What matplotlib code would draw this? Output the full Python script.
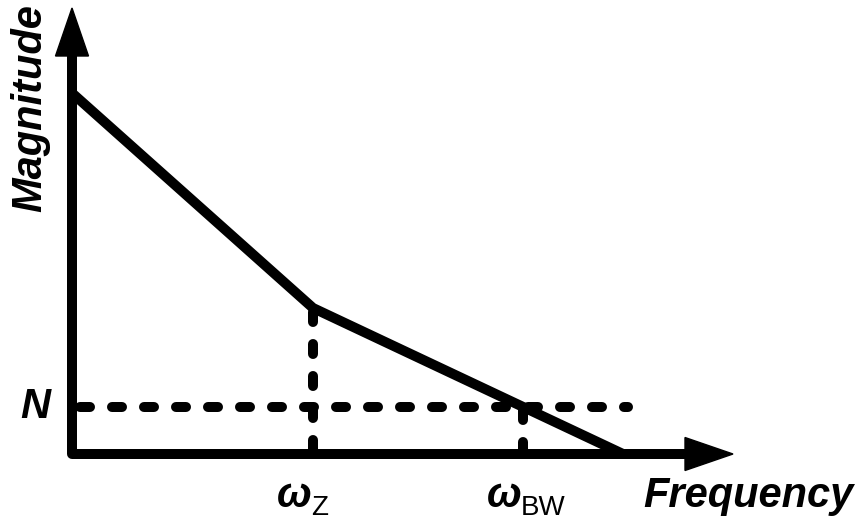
import numpy as np
import matplotlib.pyplot as plt
from matplotlib.patches import Polygon

# Bode magnitude asymptotes (arbitrary linear units, origin at axis corner)
freq_pts = [0, 241, 551]
mag_pts = [361, 146, 0]
w_z = 241
w_bw = 451
noise_level = 47
noise_end = 556

# axis extents
x_axis_tip = 661
y_axis_tip = 446

lw = 7.2
head_len = 48
head_half = 16.5

fig = plt.figure(figsize=(8.62, 5.23), dpi=100, facecolor='w')
ax = fig.add_axes([0, 0, 1, 1])
ax.set_xlim(-72, 790)
ax.set_ylim(-69, 454)
ax.axis('off')

#Axes with arrow heads
ax.plot([0, 0, x_axis_tip - head_len + 2], [y_axis_tip - head_len + 2, 0, 0],
        color='black', lw=lw, solid_joinstyle='round', solid_capstyle='butt', zorder=3)
ax.add_patch(Polygon([[0, y_axis_tip], [-head_half, y_axis_tip - head_len], [head_half, y_axis_tip - head_len]],
                     closed=True, color='black', zorder=3))
ax.add_patch(Polygon([[x_axis_tip, 0], [x_axis_tip - head_len, head_half], [x_axis_tip - head_len, -head_half]],
                     closed=True, color='black', zorder=3))

#Magnitude curve
ax.plot(freq_pts, mag_pts, color='black', lw=lw, solid_joinstyle='round', solid_capstyle='butt', zorder=4)

#Dashed guides
dash_kw = dict(color='black', lw=lw, linestyle=(0, (1.0, 2.2)), dash_capstyle='round', zorder=2)
ax.plot([8, noise_end], [noise_level, noise_level], **dash_kw)
ax.plot([w_z, w_z], [mag_pts[1] - 4, 0], **dash_kw)
i_bw = noise_level
ax.plot([w_bw, w_bw], [i_bw - 3, 0], **dash_kw)

#Labels
bi = dict(family='Liberation Sans', weight='bold', style='italic', color='black')
rg = dict(family='Liberation Sans', color='black')
ax.text(-42, 346, 'Magnitude', fontsize=30, rotation=90, ha='center', va='center', **bi)
ax.text(571, -53, 'Frequency', fontsize=30, ha='left', va='baseline', **bi)
ax.text(-37, noise_level, 'N', fontsize=30, ha='center', va='center', **bi)
ax.text(205, -53, 'ω', fontsize=30, ha='left', va='baseline', **bi)
ax.text(239, -61, 'Z', fontsize=20, ha='left', va='baseline', **rg)
ax.text(415, -53, 'ω', fontsize=30, ha='left', va='baseline', **bi)
ax.text(449, -61, 'BW', fontsize=20, ha='left', va='baseline', **rg)

fig.savefig('out.png', dpi=100, facecolor='w')
